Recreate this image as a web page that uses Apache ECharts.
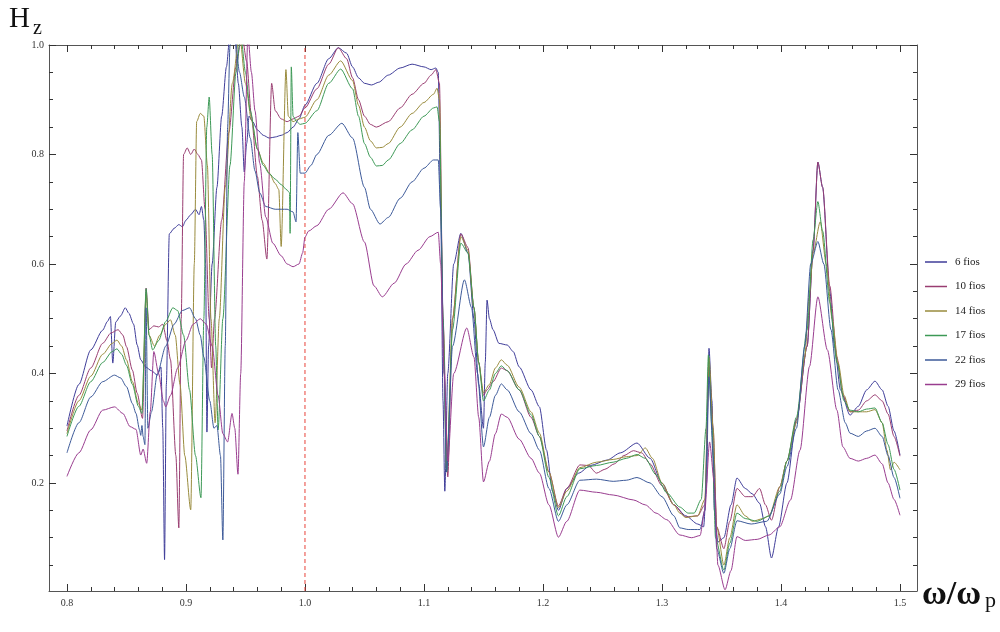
<!DOCTYPE html>
<html>
<head>
<meta charset="utf-8">
<script src="https://cdn.jsdelivr.net/npm/echarts@6.0.0/dist/echarts.min.js"></script>
<style>
  html, body { margin: 0; padding: 0; background: #fff; }
  #chart { width: 1000px; height: 632px; }
</style>
</head>
<body>
<div id="chart"></div>
<script>
// legend names, one per curve
const names = ['6 fios', '10 fios', '14 fios', '17 fios', '22 fios', '29 fios']

// tick labels
const xMajor = [0.8, 0.9, 1.0, 1.1, 1.2, 1.3, 1.4, 1.5]
const yMajor = [0.2, 0.4, 0.6, 0.8, 1.0]

// plasma frequency marker
const markX = 1.0

// curves, [omega/omega_p, Hz]
const fios6 = [[0.800,0.304],[0.810,0.380],[0.820,0.443],[0.830,0.479],[0.834,0.495],[0.8365,0.504],[0.8385,0.419],[0.841,0.494],[0.845,0.505],[0.849,0.520],[0.852,0.510],[0.856,0.490],[0.859,0.452],[0.862,0.425],[0.866,0.412],[0.871,0.405],[0.876,0.397],[0.879,0.412],[0.8805,0.300],[0.882,0.060],[0.8835,0.380],[0.886,0.655],[0.890,0.665],[0.894,0.672],[0.897,0.668],[0.900,0.680],[0.904,0.690],[0.908,0.700],[0.911,0.690],[0.913,0.705],[0.915,0.680],[0.9165,0.600],[0.9176,0.293],[0.919,0.450],[0.922,0.600],[0.926,0.740],[0.930,0.870],[0.934,0.960],[0.937,1.020],[0.941,1.020],[0.944,0.930],[0.947,0.850],[0.949,0.768],[0.951,0.820],[0.953,0.870],[0.956,0.860],[0.960,0.845],[0.965,0.835],[0.970,0.830],[0.975,0.832],[0.980,0.835],[0.985,0.840],[0.990,0.850],[0.995,0.865],[1.000,0.890],[1.010,0.930],[1.020,0.975],[1.028,0.995],[1.035,0.985],[1.040,0.960],[1.045,0.940],[1.050,0.930],[1.056,0.927],[1.062,0.932],[1.070,0.945],[1.080,0.958],[1.090,0.965],[1.100,0.960],[1.106,0.955],[1.110,0.958],[1.112,0.950],[1.114,0.700],[1.116,0.350],[1.1175,0.185],[1.120,0.400],[1.125,0.600],[1.131,0.656],[1.137,0.620],[1.142,0.500],[1.146,0.380],[1.150,0.300],[1.1515,0.420],[1.153,0.534],[1.155,0.500],[1.158,0.480],[1.163,0.455],[1.170,0.452],[1.175,0.440],[1.180,0.412],[1.190,0.370],[1.197,0.339],[1.203,0.260],[1.208,0.185],[1.213,0.150],[1.220,0.190],[1.230,0.218],[1.240,0.232],[1.254,0.242],[1.265,0.255],[1.279,0.273],[1.290,0.245],[1.300,0.200],[1.310,0.160],[1.320,0.140],[1.330,0.125],[1.335,0.120],[1.3375,0.200],[1.3395,0.446],[1.342,0.350],[1.344,0.150],[1.347,0.092],[1.352,0.100],[1.358,0.160],[1.363,0.209],[1.370,0.190],[1.376,0.180],[1.382,0.163],[1.387,0.120],[1.392,0.063],[1.398,0.120],[1.405,0.200],[1.413,0.315],[1.422,0.450],[1.427,0.625],[1.431,0.786],[1.435,0.740],[1.441,0.550],[1.445,0.450],[1.450,0.370],[1.458,0.324],[1.465,0.340],[1.472,0.370],[1.479,0.386],[1.485,0.370],[1.490,0.340],[1.495,0.295],[1.500,0.251]]

const fios10 = [[0.800,0.295],[0.810,0.360],[0.820,0.410],[0.830,0.455],[0.837,0.474],[0.843,0.480],[0.847,0.470],[0.850,0.449],[0.855,0.406],[0.859,0.364],[0.8635,0.318],[0.8665,0.556],[0.869,0.480],[0.873,0.487],[0.877,0.485],[0.8805,0.490],[0.884,0.460],[0.887,0.425],[0.8915,0.250],[0.894,0.118],[0.896,0.500],[0.898,0.800],[0.901,0.812],[0.904,0.800],[0.907,0.810],[0.910,0.800],[0.913,0.790],[0.916,0.700],[0.9195,0.500],[0.9215,0.410],[0.924,0.500],[0.930,0.680],[0.936,0.840],[0.942,0.960],[0.947,1.020],[0.951,0.970],[0.955,0.870],[0.960,0.760],[0.964,0.680],[0.968,0.609],[0.972,0.930],[0.975,0.880],[0.980,0.865],[0.985,0.860],[0.990,0.865],[0.995,0.870],[1.000,0.885],[1.010,0.920],[1.020,0.965],[1.028,0.995],[1.035,0.975],[1.040,0.940],[1.045,0.900],[1.050,0.870],[1.055,0.855],[1.060,0.850],[1.070,0.860],[1.080,0.885],[1.090,0.910],[1.100,0.930],[1.106,0.945],[1.110,0.955],[1.113,0.930],[1.116,0.500],[1.120,0.211],[1.124,0.500],[1.131,0.655],[1.137,0.630],[1.142,0.520],[1.146,0.420],[1.150,0.360],[1.153,0.370],[1.158,0.385],[1.165,0.410],[1.170,0.405],[1.180,0.370],[1.190,0.320],[1.197,0.285],[1.205,0.220],[1.213,0.158],[1.220,0.190],[1.231,0.233],[1.238,0.232],[1.245,0.218],[1.252,0.225],[1.260,0.235],[1.268,0.250],[1.276,0.259],[1.283,0.255],[1.290,0.235],[1.300,0.195],[1.310,0.160],[1.320,0.138],[1.330,0.140],[1.336,0.160],[1.3395,0.413],[1.343,0.300],[1.346,0.120],[1.352,0.080],[1.357,0.130],[1.363,0.190],[1.370,0.175],[1.376,0.175],[1.382,0.190],[1.387,0.160],[1.392,0.132],[1.399,0.193],[1.405,0.240],[1.413,0.315],[1.422,0.450],[1.427,0.625],[1.431,0.786],[1.435,0.740],[1.441,0.560],[1.447,0.430],[1.452,0.360],[1.458,0.330],[1.465,0.333],[1.472,0.350],[1.479,0.361],[1.485,0.350],[1.490,0.326],[1.495,0.285],[1.500,0.249]]

const fios14 = [[0.800,0.290],[0.810,0.350],[0.820,0.395],[0.830,0.435],[0.838,0.455],[0.842,0.461],[0.846,0.450],[0.850,0.425],[0.855,0.385],[0.860,0.345],[0.863,0.333],[0.8665,0.545],[0.869,0.470],[0.8735,0.450],[0.878,0.470],[0.883,0.490],[0.887,0.498],[0.891,0.470],[0.895,0.380],[0.899,0.250],[0.904,0.151],[0.907,0.600],[0.909,0.860],[0.912,0.875],[0.915,0.870],[0.918,0.780],[0.921,0.500],[0.9245,0.310],[0.928,0.500],[0.933,0.740],[0.939,0.930],[0.945,1.020],[0.950,0.930],[0.955,0.863],[0.960,0.810],[0.965,0.784],[0.970,0.766],[0.975,0.747],[0.978,0.736],[0.980,0.632],[0.984,0.955],[0.986,0.870],[0.990,0.860],[0.995,0.865],[1.000,0.868],[1.010,0.900],[1.020,0.945],[1.030,0.971],[1.040,0.935],[1.045,0.890],[1.050,0.850],[1.055,0.825],[1.060,0.812],[1.065,0.813],[1.070,0.820],[1.080,0.850],[1.090,0.875],[1.100,0.895],[1.108,0.910],[1.111,0.921],[1.113,0.900],[1.116,0.500],[1.119,0.220],[1.124,0.500],[1.131,0.650],[1.137,0.625],[1.142,0.520],[1.146,0.420],[1.150,0.365],[1.155,0.380],[1.160,0.410],[1.165,0.425],[1.170,0.415],[1.180,0.375],[1.190,0.330],[1.197,0.291],[1.205,0.220],[1.213,0.155],[1.220,0.185],[1.231,0.228],[1.245,0.238],[1.259,0.243],[1.270,0.248],[1.279,0.250],[1.286,0.264],[1.292,0.245],[1.300,0.200],[1.310,0.160],[1.315,0.145],[1.320,0.137],[1.330,0.140],[1.336,0.170],[1.3395,0.429],[1.343,0.300],[1.346,0.120],[1.352,0.050],[1.357,0.100],[1.363,0.160],[1.370,0.140],[1.376,0.130],[1.385,0.135],[1.390,0.140],[1.399,0.193],[1.405,0.240],[1.413,0.310],[1.420,0.430],[1.424,0.550],[1.427,0.620],[1.433,0.677],[1.438,0.600],[1.443,0.500],[1.448,0.420],[1.453,0.360],[1.458,0.330],[1.465,0.330],[1.472,0.330],[1.479,0.334],[1.485,0.310],[1.489,0.260],[1.492,0.224],[1.495,0.238],[1.500,0.224]]

const fios17 = [[0.800,0.285],[0.810,0.340],[0.820,0.385],[0.830,0.420],[0.838,0.440],[0.842,0.445],[0.846,0.435],[0.850,0.415],[0.855,0.380],[0.860,0.340],[0.863,0.327],[0.8665,0.555],[0.869,0.470],[0.872,0.443],[0.877,0.460],[0.883,0.495],[0.889,0.520],[0.893,0.515],[0.898,0.470],[0.903,0.370],[0.908,0.250],[0.9126,0.173],[0.915,0.500],[0.9175,0.850],[0.9195,0.905],[0.922,0.800],[0.925,0.450],[0.927,0.297],[0.931,0.500],[0.937,0.780],[0.942,0.950],[0.946,1.020],[0.950,0.950],[0.954,0.880],[0.960,0.810],[0.965,0.780],[0.970,0.765],[0.975,0.755],[0.980,0.745],[0.985,0.735],[0.987,0.730],[0.9875,0.656],[0.9885,0.960],[0.990,0.870],[0.993,0.860],[0.996,0.855],[1.000,0.857],[1.010,0.880],[1.020,0.930],[1.030,0.956],[1.040,0.920],[1.045,0.870],[1.050,0.820],[1.055,0.795],[1.060,0.779],[1.065,0.780],[1.070,0.790],[1.080,0.820],[1.090,0.845],[1.100,0.870],[1.108,0.885],[1.111,0.887],[1.113,0.860],[1.116,0.500],[1.119,0.220],[1.124,0.480],[1.131,0.638],[1.137,0.620],[1.142,0.520],[1.146,0.420],[1.150,0.350],[1.155,0.370],[1.160,0.400],[1.165,0.414],[1.170,0.405],[1.180,0.370],[1.190,0.325],[1.197,0.285],[1.205,0.210],[1.213,0.140],[1.220,0.175],[1.231,0.226],[1.245,0.232],[1.259,0.238],[1.270,0.245],[1.279,0.252],[1.286,0.245],[1.295,0.215],[1.304,0.182],[1.315,0.156],[1.322,0.145],[1.327,0.145],[1.333,0.170],[1.337,0.300],[1.339,0.434],[1.342,0.300],[1.345,0.100],[1.352,0.041],[1.357,0.090],[1.363,0.145],[1.370,0.135],[1.380,0.130],[1.390,0.140],[1.399,0.185],[1.405,0.240],[1.413,0.320],[1.422,0.480],[1.427,0.644],[1.431,0.714],[1.435,0.660],[1.441,0.530],[1.447,0.420],[1.453,0.350],[1.458,0.333],[1.465,0.330],[1.472,0.335],[1.479,0.337],[1.485,0.310],[1.490,0.270],[1.495,0.225],[1.500,0.187]]

const fios22 = [[0.800,0.255],[0.810,0.310],[0.820,0.357],[0.830,0.385],[0.840,0.397],[0.845,0.392],[0.850,0.376],[0.855,0.345],[0.858,0.327],[0.861,0.297],[0.862,0.287],[0.863,0.305],[0.864,0.285],[0.8655,0.270],[0.8665,0.520],[0.868,0.300],[0.871,0.330],[0.876,0.400],[0.883,0.450],[0.890,0.490],[0.897,0.515],[0.903,0.520],[0.908,0.500],[0.912,0.470],[0.915,0.430],[0.920,0.350],[0.9235,0.300],[0.926,0.305],[0.929,0.250],[0.931,0.096],[0.933,0.450],[0.935,0.850],[0.937,1.000],[0.941,1.020],[0.945,0.950],[0.949,0.905],[0.954,0.830],[0.958,0.770],[0.962,0.730],[0.967,0.705],[0.975,0.700],[0.985,0.700],[0.990,0.695],[0.9925,0.677],[0.994,0.840],[0.996,0.766],[1.000,0.766],[1.005,0.780],[1.010,0.800],[1.020,0.835],[1.031,0.857],[1.040,0.830],[1.050,0.740],[1.055,0.700],[1.063,0.673],[1.070,0.685],[1.080,0.720],[1.090,0.750],[1.100,0.775],[1.108,0.790],[1.112,0.790],[1.114,0.700],[1.117,0.400],[1.119,0.220],[1.124,0.450],[1.134,0.571],[1.140,0.520],[1.145,0.400],[1.150,0.266],[1.155,0.320],[1.160,0.360],[1.165,0.381],[1.170,0.370],[1.180,0.330],[1.190,0.290],[1.197,0.260],[1.205,0.190],[1.213,0.130],[1.220,0.160],[1.231,0.205],[1.245,0.207],[1.259,0.203],[1.270,0.205],[1.279,0.210],[1.290,0.200],[1.300,0.175],[1.310,0.140],[1.315,0.118],[1.322,0.115],[1.332,0.115],[1.336,0.150],[1.3395,0.394],[1.343,0.250],[1.346,0.080],[1.352,0.035],[1.357,0.080],[1.363,0.131],[1.375,0.125],[1.388,0.130],[1.399,0.180],[1.405,0.230],[1.413,0.300],[1.420,0.450],[1.425,0.600],[1.431,0.641],[1.436,0.600],[1.442,0.480],[1.448,0.370],[1.454,0.310],[1.458,0.291],[1.465,0.285],[1.472,0.295],[1.479,0.300],[1.485,0.285],[1.490,0.250],[1.495,0.210],[1.500,0.172]]

const fios29 = [[0.800,0.212],[0.810,0.255],[0.820,0.297],[0.830,0.333],[0.840,0.339],[0.847,0.327],[0.853,0.303],[0.858,0.298],[0.862,0.251],[0.864,0.262],[0.867,0.236],[0.870,0.330],[0.873,0.440],[0.877,0.400],[0.881,0.350],[0.883,0.339],[0.887,0.360],[0.893,0.410],[0.900,0.460],[0.906,0.490],[0.912,0.500],[0.917,0.490],[0.922,0.450],[0.927,0.360],[0.931,0.290],[0.935,0.275],[0.9387,0.327],[0.941,0.300],[0.9437,0.216],[0.946,0.400],[0.949,0.750],[0.952,1.020],[0.955,0.950],[0.958,0.880],[0.962,0.784],[0.967,0.686],[0.973,0.638],[0.980,0.615],[0.985,0.600],[0.990,0.595],[0.995,0.600],[0.998,0.620],[1.000,0.649],[1.003,0.660],[1.010,0.670],[1.020,0.700],[1.032,0.730],[1.040,0.710],[1.050,0.640],[1.058,0.560],[1.065,0.540],[1.075,0.565],[1.085,0.600],[1.095,0.625],[1.105,0.650],[1.112,0.658],[1.114,0.600],[1.117,0.400],[1.120,0.240],[1.125,0.400],[1.136,0.483],[1.142,0.430],[1.146,0.320],[1.150,0.202],[1.155,0.240],[1.160,0.290],[1.165,0.326],[1.170,0.320],[1.180,0.280],[1.190,0.245],[1.197,0.218],[1.205,0.160],[1.213,0.101],[1.220,0.130],[1.231,0.187],[1.245,0.183],[1.259,0.178],[1.276,0.169],[1.286,0.160],[1.295,0.145],[1.304,0.133],[1.315,0.105],[1.325,0.100],[1.332,0.104],[1.336,0.150],[1.340,0.275],[1.344,0.200],[1.347,0.050],[1.353,0.005],[1.358,0.040],[1.363,0.102],[1.370,0.095],[1.380,0.097],[1.390,0.105],[1.399,0.120],[1.408,0.169],[1.416,0.260],[1.424,0.413],[1.431,0.540],[1.439,0.443],[1.447,0.333],[1.452,0.266],[1.458,0.245],[1.465,0.240],[1.472,0.245],[1.479,0.251],[1.485,0.235],[1.490,0.200],[1.495,0.170],[1.500,0.141]]

const curves = [fios6, fios10, fios14, fios17, fios22, fios29]
const colors = ['#3f3d99', '#993d71', '#998b3d', '#3d9956', '#3d5a99', '#993d8f']
const red = '#e8423a'

const font = '"Liberation Serif", "DejaVu Serif", serif'
const xMin = 0.7849
const xMax = 1.5143
const yMin = 0.0027
const yMax = 1.0

// minor ticks every 0.02 on x, every 0.05 on y
const xMinor = []
for (let i = 1; i < 35; i++) {
  if (i % 5 !== 0) xMinor.push(Math.round((0.8 + i * 0.02) * 1000) / 1000)
}
const yMinor = []
for (let i = 1; i < 20; i++) {
  if (i % 4 !== 0) yMinor.push(Math.round(i * 0.05 * 1000) / 1000)
}

function frameAxis(gridIndex, position, min, max, ticks, tickLen, showLine, showLabel) {
  return {
    type: 'value',
    gridIndex: gridIndex,
    position: position,
    min: min,
    max: max,
    axisLine: { show: showLine, onZero: false, lineStyle: { color: '#555', width: 1 } },
    axisTick: { show: true, inside: true, length: tickLen, customValues: ticks, lineStyle: { color: '#333', width: 1 } },
    axisLabel: {
      show: showLabel,
      customValues: ticks,
      formatter: (v) => v.toFixed(1),
      margin: position === 'bottom' ? 7 : 5,
      color: '#333',
      fontSize: 10,
      fontFamily: font
    },
    splitLine: { show: false }
  }
}

const series = curves.map((d, i) => ({
  name: names[i],
  type: 'line',
  xAxisIndex: 0,
  yAxisIndex: 0,
  data: d,
  color: colors[i],
  symbol: 'none',
  showSymbol: false,
  smooth: 0.25,
  smoothMonotone: 'x',
  clip: true,
  lineStyle: { width: 1, color: colors[i] }
}))

// dashed red line at omega = omega_p, drawn as its own two-point line
series.push({
  name: 'wp',
  type: 'line',
  xAxisIndex: 0,
  yAxisIndex: 0,
  data: [[markX, yMin], [markX, yMax]],
  symbol: 'none',
  showSymbol: false,
  silent: true,
  z: 1,
  color: red,
  lineStyle: { color: red, width: 1, type: [4, 3] }
})

const chart = echarts.init(document.getElementById('chart'))
chart.setOption({
  animation: false,
  backgroundColor: '#fff',
  grid: [
    { left: 49, top: 45, width: 868, height: 546 },
    { left: 49, top: 45, width: 868, height: 546 }
  ],
  xAxis: [
    frameAxis(0, 'bottom', xMin, xMax, xMajor, 7, true, true),
    frameAxis(0, 'top', xMin, xMax, xMajor, 7, true, false),
    frameAxis(1, 'bottom', xMin, xMax, xMinor, 4, false, false),
    frameAxis(1, 'top', xMin, xMax, xMinor, 4, false, false)
  ],
  yAxis: [
    frameAxis(0, 'left', yMin, yMax, yMajor, 7, true, true),
    frameAxis(0, 'right', yMin, yMax, yMajor, 7, true, false),
    frameAxis(1, 'left', yMin, yMax, yMinor, 4, false, false),
    frameAxis(1, 'right', yMin, yMax, yMinor, 4, false, false)
  ],
  legend: {
    data: names,
    orient: 'vertical',
    left: 925,
    top: 255,
    padding: 0,
    itemWidth: 22,
    itemHeight: 1.5,
    itemGap: 10.5,
    icon: 'rect',
    textStyle: { fontFamily: font, fontSize: 11, color: '#222', lineHeight: 14, padding: [0, 0, 0, 3] }
  },
  graphic: [
    { type: 'text', left: 9, top: 5, style: { text: 'H', font: '29px ' + font, fill: '#111' } },
    { type: 'text', left: 33, top: 19, style: { text: 'z', font: '20px ' + font, fill: '#111' } },
    { type: 'text', left: 922, top: 578, style: { text: 'ω/ω', font: 'bold 34px ' + font, fill: '#111' } },
    { type: 'text', left: 985, top: 590, style: { text: 'p', font: '22px ' + font, fill: '#111' } }
  ],
  series: series
})
</script>
</body>
</html>
